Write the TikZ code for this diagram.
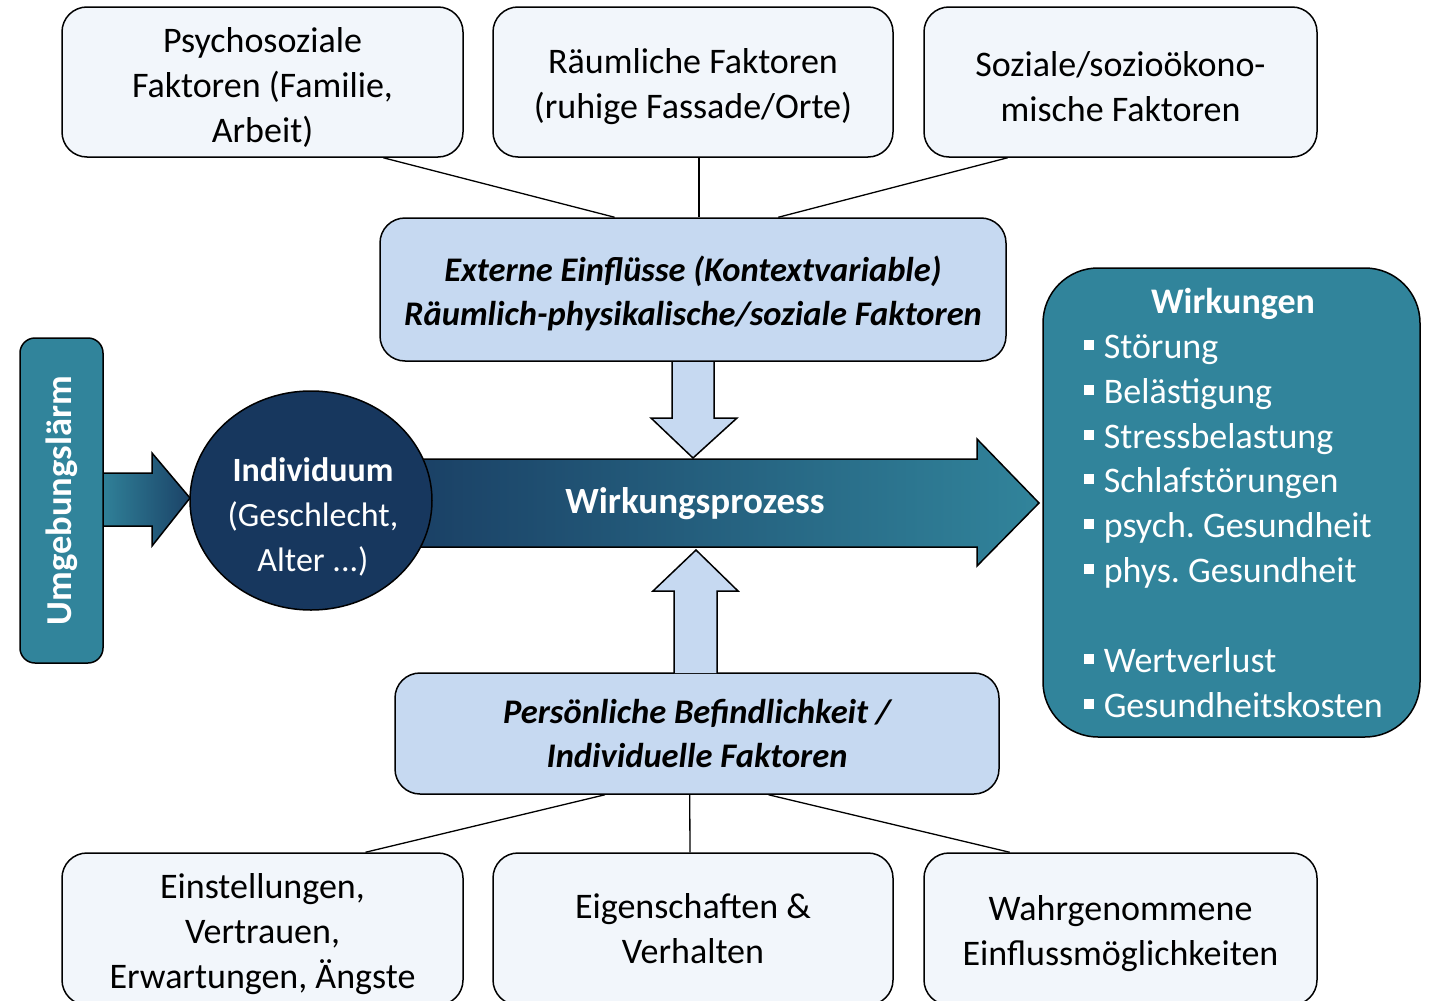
\documentclass[tikz,border=0pt]{standalone}
\usepackage{fontspec}
\setmainfont{Carlito}
\usetikzlibrary{calc,shapes.geometric}
\definecolor{lightbox}{HTML}{F2F6FB}
\definecolor{bluebox}{HTML}{C6D9F1}
\definecolor{tealc}{HTML}{31849B}
\definecolor{navyc}{HTML}{17375E}
\definecolor{midc}{HTML}{28698A}
\newcommand{\bul}{\rule[8pt]{10pt}{10pt}\hspace{10pt}}
\newcommand{\tp}{\rule{0pt}{35pt}}
\frenchspacing
\begin{document}
\begin{tikzpicture}[x=1pt,y=-1pt,
  every node/.style={font=\fontsize{36}{45}\selectfont, align=center, inner sep=0pt, line width=1.5pt},
  lbox/.style={draw=black, fill=lightbox, rounded corners=25pt, minimum width=#1, minimum height=150pt},
  bbox/.style={draw=black, fill=bluebox, rounded corners=25pt, font=\fontsize{34.5}{44}\selectfont\bfseries\itshape},
  conn/.style={draw=black, line width=1.3pt},
  item/.style={anchor=base west, text=white},
  bar/.style={draw=black, line width=1.5pt, line join=miter}]
\useasboundingbox (0,0) rectangle (1430,1001);
\clip (0,0) rectangle (1430,1001);

% top boxes
\node[lbox=401pt] (psy) at (262.5,82) {\tp Psychosoziale\\Faktoren (Familie,\\Arbeit)};
\node[lbox=400pt] (rau) at (693,82) {\tp Räumliche Faktoren\\(ruhige Fassade/Orte)};
\node[lbox=393pt] (soz) at (1120.5,82) {\tp Soziale/sozioökono-\\mische Faktoren};

% external influences
\node[bbox, minimum width=626pt, minimum height=143pt] (ext) at (693,289.5) {\rule{0pt}{33pt}Externe Einflüsse (Kontextvariable)\\Räumlich-physikalische/soziale Faktoren};

\draw[conn] ($(psy.south west)!0.8!(psy.south east)$) -- ($(ext.north west)!0.375!(ext.north east)$);
\draw[conn] ($(rau.south)+(6,0)$) -- ($(ext.north)+(6,0)$);
\draw[conn] ($(soz.south west)!0.214!(soz.south east)$) -- ($(ext.north west)!0.636!(ext.north east)$);

% personal factors
\node[bbox, minimum width=604pt, minimum height=121pt] (pers) at (697,733.5) {Persönliche Befindlichkeit /\\Individuelle Faktoren};

% bottom boxes
\node[lbox=401pt, minimum height=152pt] (ein) at (262.5,929) {\tp Einstellungen,\\Vertrauen,\\Erwartungen, Ängste};
\node[lbox=400pt, minimum height=152pt] (eig) at (693,929) {Eigenschaften \&\\Verhalten};
\node[lbox=393pt, minimum height=152pt] (wahr) at (1120.5,929) {\tp Wahrgenommene\\Einflussmöglichkeiten};

\draw[conn] ($(pers.south west)!0.348!(pers.south east)$) -- ($(ein.north west)!0.756!(ein.north east)$);
\draw[conn] ($(pers.south west)!0.488!(pers.south east)$) -- ($(eig.north west)!0.4925!(eig.north east)$);
\draw[conn] ($(pers.south west)!0.618!(pers.south east)$) -- ($(wahr.north west)!0.219!(wahr.north east)$);

% main arrow
\shade[left color=navyc!90!tealc, middle color=midc, right color=tealc] (400,459) -- (977,459) -- (977,439) -- (1039,503) -- (977,566) -- (977,547) -- (400,547) -- cycle;
\draw[bar] (400,459) -- (977,459) -- (977,439) -- (1039,503) -- (977,566) -- (977,547) -- (400,547);
\node[text=white, font=\fontsize{37}{45}\selectfont\bfseries] (proz) at (695,504) {Wirkungsprozess};

% left arrow
\shade[left color=tealc, right color=navyc!85!tealc] (98,473) -- (152,473) -- (152,453) -- (190,498) -- (152,546) -- (152,526) -- (98,526) -- cycle;
\draw[bar] (98,473) -- (152,473) -- (152,453) -- (190,498) -- (152,546) -- (152,526) -- (98,526);

% Umgebungslaerm
\node[draw=black, fill=tealc, rounded corners=15pt, minimum width=83pt, minimum height=325pt] (umg) at (61.5,500.5) {};
\node[rotate=90, text=white, font=\fontsize{36.5}{45}\selectfont\bfseries] (umgt) at (umg.center) {Umgebungslärm};

% Individuum
\node[ellipse, draw=black, fill=navyc, minimum width=242pt, minimum height=219pt] (indiv) at (311,500.5) {};
\node[text=white, font=\fontsize{34}{45}\selectfont] (indivt) at (313,517) {\textbf{Individuum}\\(Geschlecht,\\Alter ...)};

% vertical arrows
\draw[bar, fill=bluebox] (672,362) -- (672,418) -- (651,418) -- (693,458) -- (737,418) -- (714,418) -- (714,362);
\draw[bar, fill=bluebox] (674,673) -- (674,591) -- (653,591) -- (696,550) -- (738,591) -- (717,591) -- (717,673);

% Wirkungen
\node[draw=black, fill=tealc, rounded corners=55pt, minimum width=377pt, minimum height=469pt] (wirk) at (1231.5,502.5) {};
\node[anchor=base, text=white, font=\fontsize{36}{45}\selectfont\bfseries] (wtitle) at (1233,313) {Wirkungen};
\node[item] (w1) at (1083,358) {\bul Störung};
\node[item] (w2) at (1083,403) {\bul Belästigung};
\node[item] (w3) at (1083,448) {\bul Stressbelastung};
\node[item] (w4) at (1083,492) {\bul Schlafstörungen};
\node[item] (w5) at (1083,537) {\bul psych. Gesundheit};
\node[item] (w6) at (1083,582) {\bul phys. Gesundheit};
\node[item] (w7) at (1083,672) {\bul Wertverlust};
\node[item] (w8) at (1083,717) {\bul Gesundheitskosten};
\end{tikzpicture}
\end{document}
